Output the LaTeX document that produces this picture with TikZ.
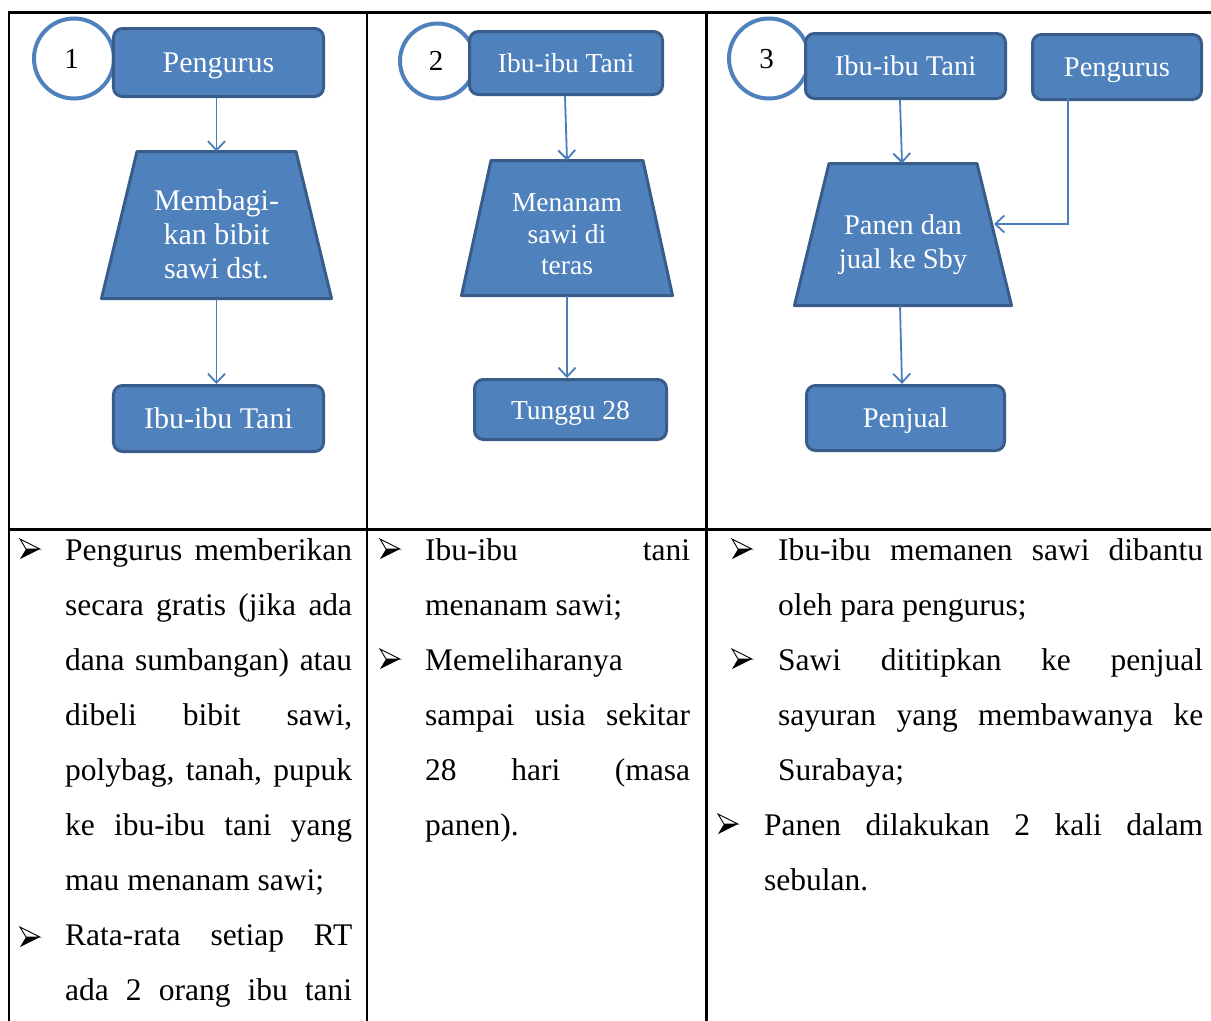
\documentclass[tikz,border=0pt]{standalone}
\usepackage{fontspec}
\setmainfont{Liberation Serif}
\usetikzlibrary{arrows.meta,calc}
\definecolor{fillblue}{HTML}{4F81BD}
\definecolor{edgeblue}{HTML}{385D8A}
\definecolor{lineblue}{HTML}{4A7EBB}
\begin{document}
\begin{tikzpicture}[x=1bp,y=-1bp,
 box/.style={draw=edgeblue, fill=fillblue, line width=3bp, rounded corners=9bp, text=white, inner sep=0pt, text height=19bp, text depth=0pt},
 trapbox/.style={inner sep=0pt, outer sep=0pt},
 trap/.style={draw=edgeblue, fill=fillblue, line width=3bp, line join=round},
 traptext/.style={text=white, align=center, inner sep=0pt},
 numcirc/.style={circle, draw=fillblue, fill=white, line width=4bp, inner sep=0pt, text height=19.5bp, text depth=0pt},
 conn/.style={draw=lineblue, line width=1.8bp, -{Straight Barb[length=9bp,width=17bp,line width=1.8bp]}},
 gridline/.style={line width=2.1bp, black},
 body/.style={anchor=base west, inner sep=0pt, font=\fontsize{31.5bp}{38bp}\selectfont},
 bul/.pic={\draw[line width=0.9bp, line join=miter] (10,0) -- (-10,-10) -- (-4,0) -- cycle;
           \fill (10,0) -- (-4,0) -- (-10,10) -- cycle;}
]
\useasboundingbox (0,0) rectangle (1211,1021);
\fill[white] (0,0) rectangle (1211,1021);

% table grid
\draw[gridline] (8,12.5) -- (1211,12.5);
\draw[gridline] (9,12) -- (9,1021);
\draw[gridline] (367,12) -- (367,1021);
\draw[gridline] (706.5,12) -- (706.5,1021);
\draw[gridline] (9,529.5) -- (1211,529.5);

% ---------- column 1 ----------
\node[numcirc, minimum size=80bp, font=\fontsize{29bp}{29bp}\selectfont] (c1) at (74,58.5) {\hspace{-5bp}1};
\node[box, minimum width=210bp, minimum height=68bp, font=\fontsize{30bp}{30bp}\selectfont] (p1) at (218.5,62.5) {Pengurus};
\node[trapbox, minimum width=230bp, minimum height=147bp] (t1) at (216.5,225) {};
\path[trap] (t1.south west) -- (t1.south east) -- ([xshift=-35.5bp]t1.north east) -- ([xshift=35.5bp]t1.north west) -- cycle;
\node[traptext, font=\fontsize{30bp}{34bp}\selectfont] (t1l) at (216.5,234) {Membagi-\\kan bibit\\sawi dst.};
\node[box, minimum width=210bp, minimum height=66bp, font=\fontsize{30bp}{30bp}\selectfont] (i1) at (218.5,418.5) {Ibu-ibu Tani};
\draw[conn] (p1.south -| t1.north) -- (t1.north);
\draw[conn] (t1.south) -- (t1.south |- i1.north);

% ---------- column 2 ----------
\node[numcirc, minimum size=75bp, font=\fontsize{29bp}{29bp}\selectfont] (c2) at (437.5,61) {\hspace{-3bp}2};
\node[box, minimum width=193bp, minimum height=63bp, font=\fontsize{27.5bp}{27.5bp}\selectfont] (b2) at (566,63) {Ibu-ibu Tani};
\node[trapbox, minimum width=211bp, minimum height=135bp] (t2) at (567,228) {};
\path[trap] (t2.south west) -- (t2.south east) -- ([xshift=-29.5bp]t2.north east) -- ([xshift=29.5bp]t2.north west) -- cycle;
\node[traptext, font=\fontsize{27.5bp}{31.5bp}\selectfont] (t2l) at (567,234.5) {Menanam\\sawi di\\teras};
\node[box, minimum width=192bp, minimum height=60bp, font=\fontsize{27.5bp}{27.5bp}\selectfont] (tg) at (570.5,409.5) {Tunggu 28};
\draw[conn] ([xshift=-1bp]b2.south) -- (t2.north);
\draw[conn] (t2.south) -- (t2.south |- tg.north);

% ---------- column 3 ----------
\node[numcirc, minimum size=80bp, font=\fontsize{29bp}{29bp}\selectfont] (c3) at (769,58.5) {\hspace{-5bp}3};
\node[box, minimum width=200bp, minimum height=65bp, font=\fontsize{28.5bp}{28.5bp}\selectfont] (ib3) at (905.5,66) {Ibu-ibu Tani};
\node[box, minimum width=169bp, minimum height=65bp, font=\fontsize{28.5bp}{28.5bp}\selectfont] (pg3) at (1117,67) {Pengurus};
\node[trapbox, minimum width=217bp, minimum height=142bp] (t3) at (903,234.5) {};
\path[trap] (t3.south west) -- (t3.south east) -- ([xshift=-34.5bp]t3.north east) -- ([xshift=34.5bp]t3.north west) -- cycle;
\node[traptext, font=\fontsize{28.5bp}{34bp}\selectfont] (t3l) at (903,245) {Panen dan\\jual ke Sby};
\node[box, minimum width=198bp, minimum height=65bp, font=\fontsize{28.5bp}{28.5bp}\selectfont] (pj) at (905.5,418) {Penjual};
\coordinate (t3r) at (994,224);
\draw[conn] ([xshift=-5.5bp]ib3.south) -- ([xshift=-1bp]t3.north);
\draw[conn] ([xshift=-3bp]t3.south) -- ([xshift=-3.5bp]pj.north);
\draw[conn] ([xshift=-49bp,yshift=4bp]pg3.south) |- (t3r);

% ---------- text column 1 ----------
\pic at (30,549) {bul};
\node[body] (a1) at (65,560) {\makebox[287bp][s]{Pengurus memberikan}};
\node[body] (a2) at (65,615) {\makebox[287bp][s]{secara gratis (jika ada}};
\node[body] (a3) at (65,670) {\makebox[287bp][s]{dana sumbangan) atau}};
\node[body] (a4) at (65,725) {\makebox[287bp][s]{dibeli bibit sawi,}};
\node[body] (a5) at (65,780) {\makebox[287bp][s]{polybag, tanah, pupuk}};
\node[body] (a6) at (65,835) {\makebox[287bp][s]{ke ibu-ibu tani yang}};
\node[body] (a7) at (65,890) {mau menanam sawi;};
\pic at (30,937) {bul};
\node[body] (a8) at (65,945) {\makebox[287bp][s]{Rata-rata setiap RT}};
\node[body] (a9) at (65,1000) {\makebox[287bp][s]{ada 2 orang ibu tani}};

% ---------- text column 2 ----------
\pic at (390,549) {bul};
\node[body] (b1) at (425,560) {\makebox[265bp][s]{Ibu-ibu tani}};
\node[body] (b2t) at (425,615) {menanam sawi;};
\pic at (390,659) {bul};
\node[body] (b3) at (425,670) {Memeliharanya};
\node[body] (b4) at (425,725) {\makebox[265bp][s]{sampai usia sekitar}};
\node[body] (b5) at (425,780) {\makebox[265bp][s]{28 hari (masa}};
\node[body] (b6) at (425,835) {panen).};

% ---------- text column 3 ----------
\pic at (742,549) {bul};
\node[body] (d1) at (778,560) {\makebox[425bp][s]{Ibu-ibu memanen sawi dibantu}};
\node[body] (d2) at (778,615) {oleh para pengurus;};
\pic at (742,659) {bul};
\node[body] (d3) at (778,670) {\makebox[425bp][s]{Sawi dititipkan ke penjual}};
\node[body] (d4) at (778,725) {\makebox[425bp][s]{sayuran yang membawanya ke}};
\node[body] (d5) at (778,780) {Surabaya;};
\pic at (728,824) {bul};
\node[body] (d6) at (764,835) {\makebox[439bp][s]{Panen dilakukan 2 kali dalam}};
\node[body] (d7) at (764,890) {sebulan.};
\end{tikzpicture}
\end{document}
